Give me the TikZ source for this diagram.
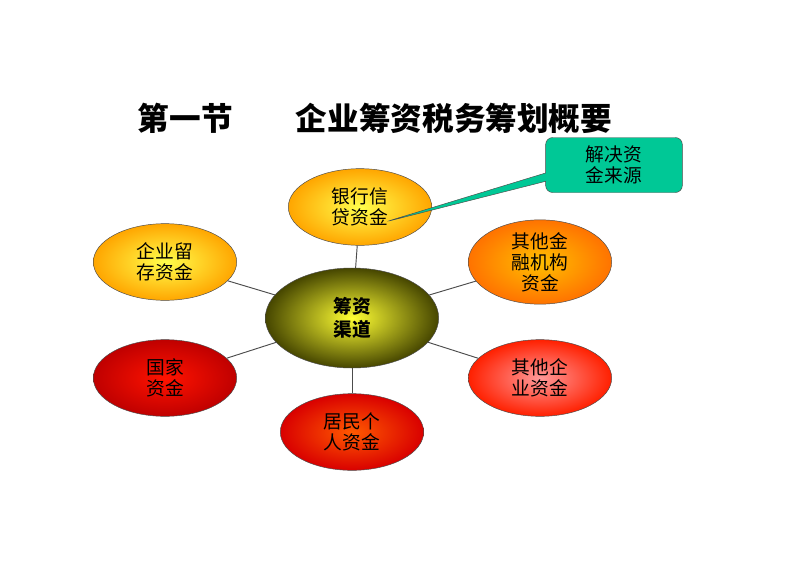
\documentclass[tikz,border=0pt]{standalone}
\usepackage{fontspec}
\setmainfont{Noto Sans CJK SC}
\usetikzlibrary{shapes.geometric,shapes.callouts}

\definecolor{callgreen}{RGB}{0,200,150}

\tikzset{
	src/.style={ellipse, minimum width=4.3cm, minimum height=2.3cm, draw=black!70, align=center, font=\fontsize{16}{18}\selectfont, inner sep=0pt},
	yel/.style={src, inner color=yellow!70!white, outer color=orange!70!yellow},
	org/.style={src, inner color=orange!50!yellow, outer color=orange!90!red},
	redd/.style={src, inner color=red!85!orange, outer color=red!75!black},
	pink/.style={src, inner color=red!40!white, outer color=red!75!orange},
	spoke/.style={draw=black!70, thick}
}

\begin{document}
\begin{tikzpicture}[x=0.03cm, y=-0.03cm]
	\useasboundingbox[fill=white] (0,0) rectangle (792,560);

	% Title
	\node (title) at (375,118) {\fontsize{27}{30}\selectfont\bfseries 第一节\quad\quad 企业筹资税务筹划概要};

	% Centre
	\node[ellipse, minimum width=5.2cm, minimum height=3.0cm, draw=black!70, inner color=yellow!80!white, outer color=olive!55!black, align=center, font=\fontsize{16}{19}\selectfont\bfseries] (hub) at (352,318) {筹资\\渠道};

	% Sources
	\node[yel] (bank) at (360,207) {银行信\\贷资金};
	\node[yel] (own) at (165,262) {企业留\\存资金};
	\node[org] (fin) at (540,262) {其他金\\融机构\\资金};
	\node[redd] (state) at (165,378) {国家\\资金};
	\node[pink] (firm) at (540,378) {其他企\\业资金};
	\node[redd, inner color=orange!70!red, outer color=red!85!black] (people) at (352,432) {居民个\\人资金};

	% Spokes
	\foreach \n in {bank,own,fin,state,firm,people}
		\draw[spoke] (hub) -- (\n);

	% Callout
	\coordinate (tip) at (385,222);
	\node[rectangle callout, rounded corners=6pt, draw=black!70, fill=callgreen, minimum width=4.1cm, minimum height=1.65cm, align=center, font=\fontsize{16}{18}\selectfont, callout absolute pointer={(tip)}] (note) at (614,165) {解决资\\金来源};
\end{tikzpicture}
\end{document}
